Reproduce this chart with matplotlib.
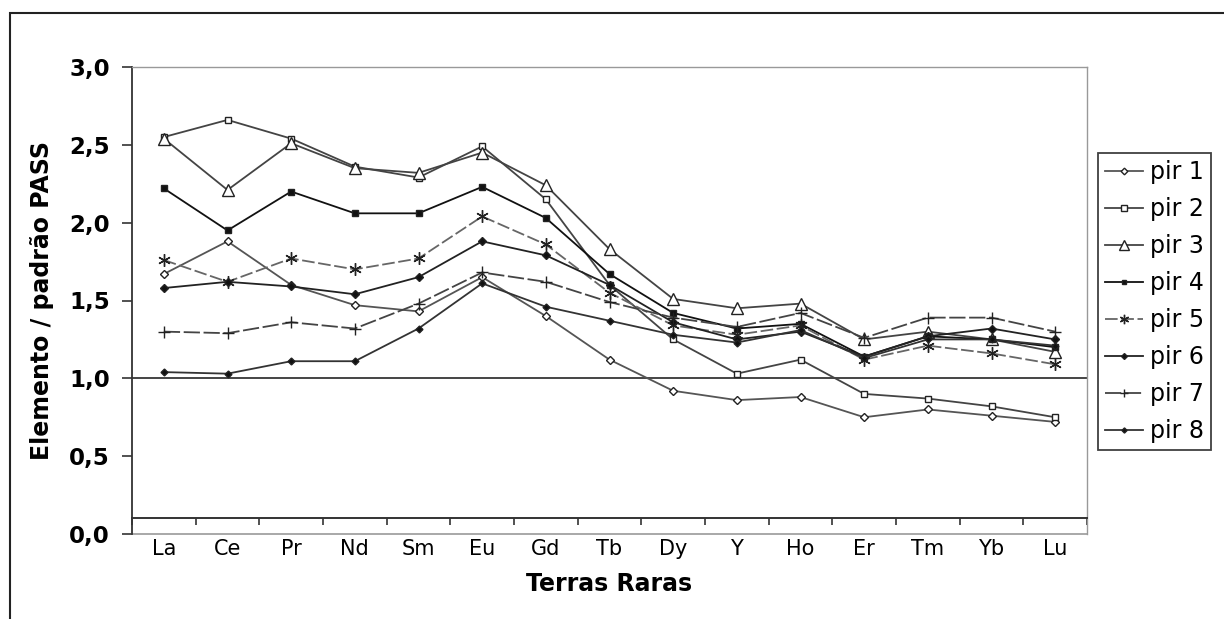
import matplotlib.pyplot as plt
import matplotlib.ticker as ticker
from matplotlib.patches import Rectangle

# Terras raras normalizadas ao padrão PASS
elementos = ["La", "Ce", "Pr", "Nd", "Sm", "Eu", "Gd", "Tb", "Dy", "Y", "Ho", "Er", "Tm", "Yb", "Lu"]

pir1 = [1.67, 1.88, 1.60, 1.47, 1.43, 1.65, 1.40, 1.12, 0.92, 0.86, 0.88, 0.75, 0.80, 0.76, 0.72]
pir2 = [2.55, 2.66, 2.54, 2.36, 2.29, 2.49, 2.15, 1.60, 1.25, 1.03, 1.12, 0.90, 0.87, 0.82, 0.75]
pir3 = [2.54, 2.21, 2.51, 2.35, 2.32, 2.45, 2.24, 1.83, 1.51, 1.45, 1.48, 1.25, 1.30, 1.25, 1.17]
pir4 = [2.22, 1.95, 2.20, 2.06, 2.06, 2.23, 2.03, 1.67, 1.42, 1.32, 1.35, 1.14, 1.27, 1.25, 1.20]
pir5 = [1.76, 1.62, 1.77, 1.70, 1.77, 2.04, 1.86, 1.55, 1.34, 1.28, 1.34, 1.12, 1.21, 1.16, 1.09]
pir6 = [1.58, 1.62, 1.59, 1.54, 1.65, 1.88, 1.79, 1.60, 1.36, 1.25, 1.30, 1.14, 1.27, 1.32, 1.25]
pir7 = [1.30, 1.29, 1.36, 1.32, 1.48, 1.68, 1.62, 1.49, 1.39, 1.33, 1.42, 1.26, 1.39, 1.39, 1.30]
pir8 = [1.04, 1.03, 1.11, 1.11, 1.32, 1.61, 1.46, 1.37, 1.28, 1.23, 1.31, 1.13, 1.25, 1.25, 1.21]

amostras = ["pir 1", "pir 2", "pir 3", "pir 4", "pir 5", "pir 6", "pir 7", "pir 8"]
series = [pir1, pir2, pir3, pir4, pir5, pir6, pir7, pir8]

# marcador, tamanho, preenchimento, estilo de linha, cor
estilos = [
    ("D", 4.5, "white", "-", "#555555"),
    ("s", 5, "white", "-", "#444444"),
    ("^", 9, "white", "-", "#444444"),
    ("s", 4.5, "#111111", "-", "#111111"),
    ((6, 2, 0), 9, "#555555", (0, (7, 2)), "#666666"),
    ("D", 4, "#111111", "-", "#222222"),
    ("+", 8, "#333333", (0, (9, 2)), "#444444"),
    ("D", 3.5, "#111111", "-", "#333333"),
]

fig = plt.figure(figsize=(12.24, 6.19), dpi=100)
ax = fig.add_axes([132 / 1224, 85 / 619, 955 / 1224, 467 / 619])

x = list(range(len(elementos)))
for valores, nome, (mk, ms, mfc, ls, cor) in zip(series, amostras, estilos):
    ax.plot(x, valores, label=nome, marker=mk, markersize=ms, markerfacecolor=mfc,
            markeredgecolor="#222222", markeredgewidth=1.0, linestyle=ls, color=cor,
            linewidth=1.3, zorder=3)

ax.axhline(1.0, color="#444444", linewidth=1.4, zorder=2)
ax.axhline(0.0, color="#999999", linewidth=1.2, clip_on=False, zorder=2)

ax.set_xlim(-0.5, len(elementos) - 0.5)
ax.set_ylim(0, 3)

# eixo das categorias cruza em 0,1
ax.spines["bottom"].set_position(("data", 0.1))
ax.spines["bottom"].set_color("#333333")
ax.spines["bottom"].set_linewidth(1.4)
ax.spines["left"].set_color("#333333")
ax.spines["left"].set_linewidth(1.3)
for lado in ["top", "right"]:
    ax.spines[lado].set_color("#999999")
    ax.spines[lado].set_linewidth(1.0)

ax.set_xticks(x)
ax.set_xticklabels(elementos, fontsize=15)
ax.xaxis.set_minor_locator(ticker.FixedLocator([i - 0.5 for i in range(len(elementos) + 1)]))
ax.tick_params(axis="x", which="major", length=0, pad=15)
ax.tick_params(axis="x", which="minor", length=5, width=1.2, direction="out", color="#333333")

ax.yaxis.set_major_locator(ticker.MultipleLocator(0.5))
ax.yaxis.set_major_formatter(ticker.FuncFormatter(lambda v, p: f"{v:.1f}".replace(".", ",")))
ax.tick_params(axis="y", length=7, width=1.2, direction="out", pad=9, color="#333333")
for rotulo in ax.get_yticklabels():
    rotulo.set_fontsize(16.5)
    rotulo.set_fontweight("bold")

ax.set_xlabel("Terras Raras", fontsize=17, fontweight="bold", labelpad=9)
ax.set_ylabel("Elemento / padrão PASS", fontsize=17, fontweight="bold", labelpad=11)

fig.legend(loc="upper left", bbox_to_anchor=(1098 / 1224, 1 - 153 / 619), borderaxespad=0,
           fontsize=17, frameon=True, fancybox=False, edgecolor="#111111", markerscale=0.75,
           handlelength=1.6, handletextpad=0.3, labelspacing=0.55, borderpad=0.3)
fig.legends[0].get_frame().set_linewidth(1.3)

# moldura externa do gráfico
fig.patches.append(Rectangle((10 / 1224, -0.1), 1.2, 1 - 13 / 619 + 0.1, transform=fig.transFigure,
                             fill=False, edgecolor="#222222", linewidth=1.5))

plt.savefig("out.png", dpi=100)
